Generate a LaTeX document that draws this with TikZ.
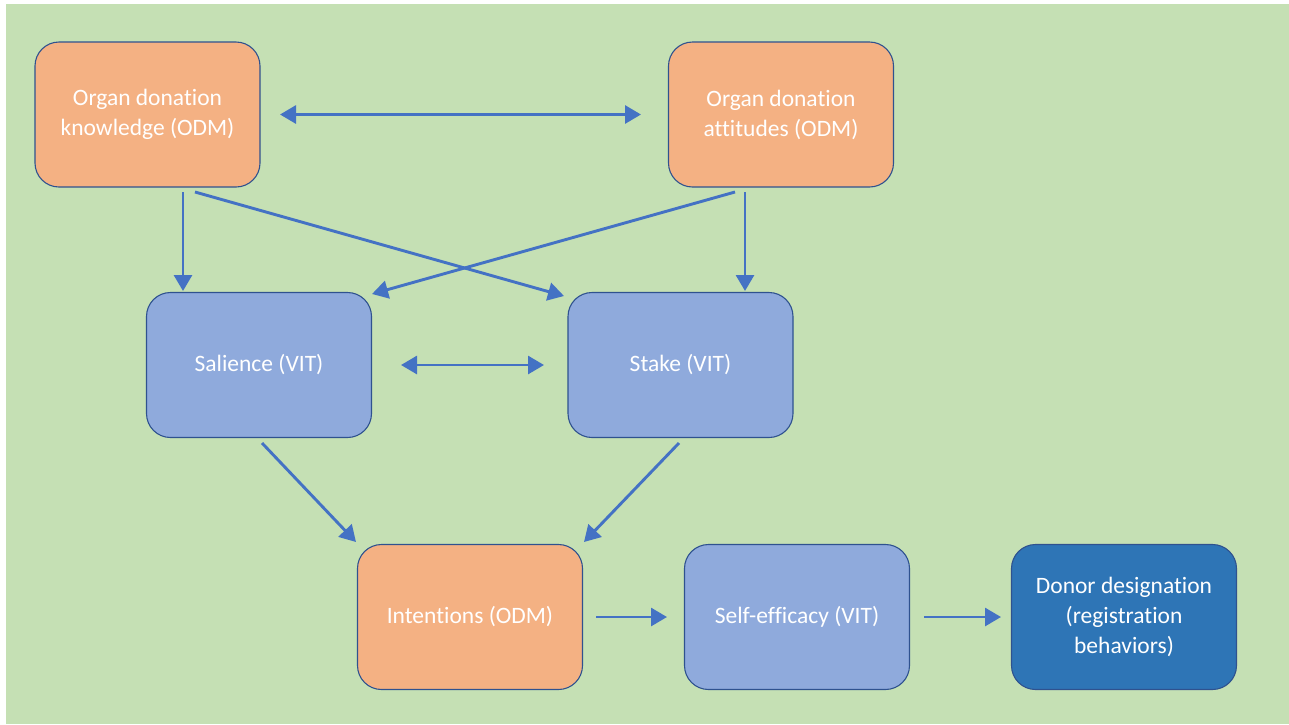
\documentclass[tikz,border=0pt]{standalone}
\usepackage{fontspec}
\setmainfont{Carlito}[Ligatures={NoCommon}]
\usetikzlibrary{arrows.meta}
\definecolor{bggreen}{HTML}{C5E0B4}
\definecolor{odmorange}{HTML}{F4B183}
\definecolor{vitblue}{HTML}{8FAADC}
\definecolor{darkblue}{HTML}{2E75B6}
\definecolor{edgeblue}{HTML}{2F528F}
\definecolor{arrowblue}{HTML}{4472C4}
\tikzset{
  box/.style={draw=edgeblue, line width=1.1pt, rounded corners=24pt, minimum width=225pt, minimum height=145pt, align=center, text=white, font=\fontsize{23.5}{30}\selectfont, inner sep=0pt},
  odm/.style={box, fill=odmorange},
  vit/.style={box, fill=vitblue},
  outc/.style={box, fill=darkblue},
  conn/.style={draw=arrowblue, line width=2.9pt, -{Triangle[length=16pt,width=18pt]}},
  biconn/.style={draw=arrowblue, line width=2.9pt, {Triangle[length=16pt,width=18pt]}-{Triangle[length=16pt,width=18pt]}}
}
\begin{document}
\begin{tikzpicture}[x=1pt,y=-1pt]
\useasboundingbox (0,0) rectangle (1289,724);
\fill[white] (0,0) rectangle (1289,724);
\fill[bggreen] (6,4) rectangle (1289,724);

\node[odm] (odk) at (147.5,114.5) {Organ donation\\knowledge (ODM)};
\node[odm] (oda) at (781,114.5) {Organ donation\\attitudes (ODM)};
\node[vit] (sal) at (259,365) {Salience (VIT)};
\node[vit] (stk) at (680.5,365) {Stake (VIT)};
\node[odm] (int) at (470,617) {Intentions (ODM)};
\node[vit] (se) at (797,617) {Self-efficacy (VIT)};
\node[outc] (don) at (1124,617) {Donor designation\\(registration\\behaviors)};

\coordinate (a1) at (280,114.5); \coordinate (a2) at (641,114.5);
\draw[biconn] (a1) -- (a2);

\coordinate (b1) at (183,192); \coordinate (b2) at (183,291);
\draw[conn] (b1) -- (b2);
\coordinate (c1) at (195,192); \coordinate (c2) at (564,296);
\draw[conn] (c1) -- (c2);
\coordinate (d1) at (735,192); \coordinate (d2) at (372,294);
\draw[conn] (d1) -- (d2);
\coordinate (e1) at (745,192); \coordinate (e2) at (745,291);
\draw[conn] (e1) -- (e2);

\coordinate (f1) at (401,365); \coordinate (f2) at (544,365);
\draw[biconn] (f1) -- (f2);

\coordinate (g1) at (262,443); \coordinate (g2) at (356,542);
\draw[conn] (g1) -- (g2);
\coordinate (h1) at (679,443); \coordinate (h2) at (584,542);
\draw[conn] (h1) -- (h2);

\coordinate (i1) at (596,617); \coordinate (i2) at (667,617);
\draw[conn] (i1) -- (i2);
\coordinate (j1) at (924,617); \coordinate (j2) at (1001,617);
\draw[conn] (j1) -- (j2);
\end{tikzpicture}
\end{document}
